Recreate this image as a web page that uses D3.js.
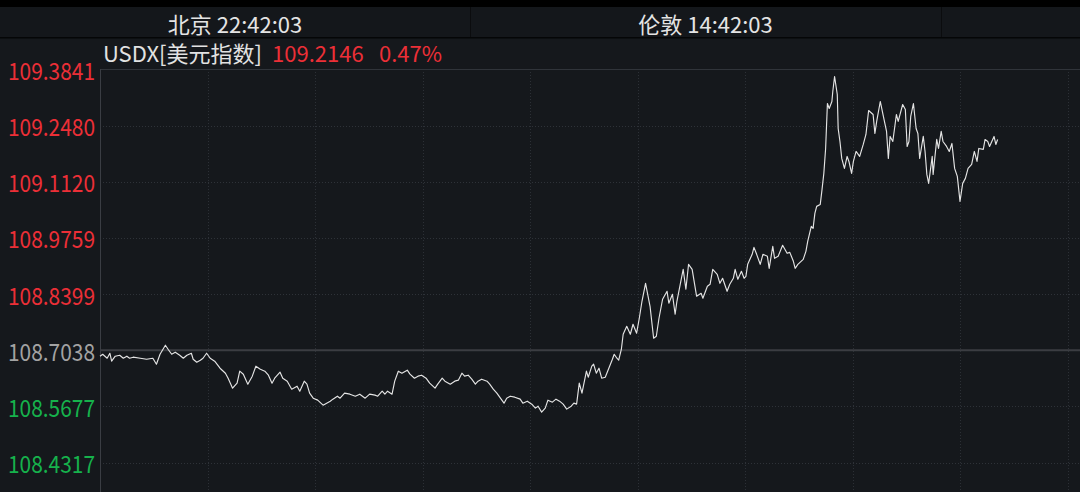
<!DOCTYPE html>
<html>
<head>
<meta charset="utf-8">
<script src="https://cdn.jsdelivr.net/npm/d3@7"></script>
<style>
  html, body { margin: 0; padding: 0; background: #15181c; }
  svg { display: block; }
  text { font-family: "Noto Sans CJK SC", "Noto Sans", sans-serif; }
</style>
</head>
<body>
<svg id="chart" width="1080" height="492"></svg>
<script>
// ---- data ----
const cityLabels = ["北京 22:42:03", "伦敦 14:42:03"];
const symbolName = "USDX[美元指数]";
const lastPrice = "109.2146";
const changePct = "0.47%";
const prevClose = 108.7038;
const yTickLabels = ["109.3841", "109.2480", "109.1120", "108.9759", "108.8399", "108.7038", "108.5677", "108.4317"];
const gridMinutes = [0, 120, 240, 360, 480, 600, 720, 840, 960, 1080, 1200, 1320, 1440];
// minutes after 06:00 (Beijing)
const minutes = [0,3,8,11,13,17,22,26,30,33,37,45,52,59,63,67,73,76,80,84,89,93,97,102,104,108,112,115,119,123,128,134,140,143,148,153,156,160,165,170,174,179,184,188,192,195,201,204,209,214,220,223,228,231,234,238,243,249,253,257,260,265,268,273,279,285,290,296,301,307,310,315,318,321,326,329,333,337,343,346,351,355,359,364,368,374,377,382,385,391,396,400,404,407,411,415,419,422,426,432,435,439,443,447,451,454,458,463,469,472,477,482,486,489,493,497,500,505,509,513,517,521,526,529,532,535,538,543,545,549,551,554,557,560,564,568,572,574,577,579,582,584,588,592,595,599,602,605,609,614,618,621,624,628,633,635,639,642,644,649,651,654,657,661,666,671,673,678,681,684,689,692,695,700,703,707,709,712,716,719,721,723,728,730,733,737,740,745,747,751,753,757,762,767,770,774,776,779,785,788,790,794,796,798,800,804,806,808,810,812,814,817,818,820,823,824,826,828,831,834,836,839,841,844,848,852,855,858,863,865,867,871,874,878,880,882,885,889,891,896,899,901,903,905,908,911,913,915,919,921,923,925,929,930,934,936,939,941,945,948,951,954,957,960,963,966,969,973,976,979,981,986,988,991,993,998,1000,1002];
const values = [108.6893,108.6941,108.6844,108.6965,108.6772,108.6893,108.6917,108.6844,108.6893,108.6844,108.6869,108.6844,108.6820,108.6844,108.6699,108.6941,108.7159,108.7062,108.6941,108.6990,108.6917,108.6844,108.6917,108.6965,108.6820,108.6748,108.6796,108.6844,108.6965,108.6844,108.6772,108.6602,108.6481,108.6360,108.6118,108.6239,108.6530,108.6457,108.6215,108.6409,108.6651,108.6578,108.6530,108.6433,108.6239,108.6360,108.6505,108.6360,108.6288,108.6094,108.6167,108.6045,108.6288,108.6215,108.5997,108.5876,108.5828,108.5707,108.5755,108.5803,108.5852,108.5924,108.5876,108.5997,108.5973,108.5924,108.5973,108.5876,108.5973,108.5949,108.5924,108.6045,108.5973,108.6045,108.5973,108.6288,108.6530,108.6481,108.6554,108.6457,108.6360,108.6409,108.6433,108.6360,108.6239,108.6118,108.6215,108.6360,108.6288,108.6215,108.6288,108.6312,108.6481,108.6409,108.6433,108.6336,108.6215,108.6288,108.6336,108.6288,108.6215,108.6094,108.5997,108.5876,108.5755,108.5876,108.5924,108.5900,108.5852,108.5755,108.5803,108.5731,108.5634,108.5682,108.5537,108.5634,108.5828,108.5779,108.5852,108.5803,108.5731,108.5610,108.5682,108.5755,108.5731,108.6239,108.5997,108.6530,108.6384,108.6651,108.6699,108.6481,108.6602,108.6360,108.6384,108.6602,108.6820,108.6941,108.6844,108.6796,108.7062,108.7425,108.7619,108.7425,108.7667,108.7450,108.7813,108.8224,108.8660,108.8103,108.7328,108.7377,108.7813,108.8273,108.8466,108.8176,108.8394,108.7909,108.8224,108.8781,108.8999,108.8515,108.9120,108.8999,108.8345,108.8418,108.8297,108.8587,108.8636,108.8999,108.8878,108.8660,108.8781,108.8466,108.8636,108.8781,108.8999,108.8757,108.8950,108.8781,108.8829,108.9120,108.9362,108.9531,108.9362,108.9120,108.9362,108.9314,108.9023,108.9556,108.9265,108.9314,108.9580,108.9386,108.9410,108.9193,108.9023,108.9120,108.9241,108.9435,108.9677,109.0040,108.9991,109.0354,109.0524,109.0572,109.0935,109.1323,109.1928,109.3017,109.2896,109.3066,109.3308,109.3671,109.3235,109.2412,109.2097,109.1686,109.1444,109.1734,109.1613,109.1323,109.1613,109.1855,109.1734,109.2025,109.2267,109.2848,109.2751,109.2291,109.2582,109.3066,109.2751,109.2340,109.1686,109.2219,109.2097,109.2751,109.2582,109.2993,109.2872,109.1976,109.2097,109.2703,109.3017,109.2412,109.2291,109.1686,109.2219,109.1855,109.1299,109.1081,109.1734,109.1299,109.2146,109.1928,109.2340,109.2097,109.1976,109.1855,109.2049,109.1444,109.1250,109.0645,109.1081,109.1202,109.1444,109.1541,109.1855,109.1613,109.1928,109.1904,109.2146,109.2097,109.1976,109.2219,109.2025,109.2146];

// ---- layout ----
const W = 1080, H = 492;
const plotLeft = 100, plotTop = 69, plotBottom = 492;
const svg = d3.select("#chart");

const x = d3.scaleLinear().domain([0, 1440]).range([plotLeft, 1390]);
const tickVals = yTickLabels.map(Number);
const y = d3.scaleLinear().domain([d3.min(tickVals), d3.max(tickVals)]).range([462.5, 69.5]);

// backgrounds
svg.append("rect").attr("x", 0).attr("y", 0).attr("width", W).attr("height", H).attr("fill", "#15181c");
svg.append("rect").attr("x", 0).attr("y", 0).attr("width", W).attr("height", 7).attr("fill", "#000000");
svg.append("rect").attr("x", 0).attr("y", 7).attr("width", W).attr("height", 30).attr("fill", "#14171b");
svg.append("rect").attr("x", 0).attr("y", 37).attr("width", W).attr("height", 1.5).attr("fill", "#050607");
// header cell dividers
[470, 941].forEach(d => svg.append("line").attr("x1", d + 0.5).attr("x2", d + 0.5).attr("y1", 7).attr("y2", 37)
  .attr("stroke", "#0b0c0e").attr("stroke-width", 1));

// header texts
const hdrCenters = [235, 705.5];
cityLabels.forEach((t, i) => {
  svg.append("text").attr("x", hdrCenters[i]).attr("y", 23).attr("text-anchor", "middle")
    .attr("dominant-baseline", "central").attr("font-size", 22).attr("fill", "#e4e4e4").text(t);
});

// symbol line
const sym = svg.append("text").attr("x", 103).attr("y", 52).attr("dominant-baseline", "central").attr("font-size", 22);
sym.append("tspan").attr("fill", "#e2e2e2").text(symbolName);
sym.append("tspan").attr("x", 272).attr("fill", "#ec2f37").text(lastPrice);
sym.append("tspan").attr("x", 379).attr("fill", "#ec2f37").text(changePct);

// vertical grid
svg.append("g").selectAll("line").data(gridMinutes.slice(1)).join("line")
  .attr("x1", d => Math.round(x(d)) + 0.5).attr("x2", d => Math.round(x(d)) + 0.5)
  .attr("y1", plotTop).attr("y2", plotBottom)
  .attr("stroke", "#2c3036").attr("stroke-width", 1).attr("stroke-dasharray", "1,2");

// horizontal grid
svg.append("g").selectAll("line").data(tickVals.filter(v => v !== prevClose && v !== d3.max(tickVals))).join("line")
  .attr("x1", plotLeft).attr("x2", W)
  .attr("y1", d => Math.round(y(d)) + 0.5).attr("y2", d => Math.round(y(d)) + 0.5)
  .attr("stroke", "#2e3238").attr("stroke-width", 1).attr("stroke-dasharray", "1,2");

// baseline (previous close)
svg.append("line").attr("x1", plotLeft).attr("x2", W)
  .attr("y1", y(prevClose)).attr("y2", y(prevClose))
  .attr("stroke", "#3b3d42").attr("stroke-width", 2);

// borders
svg.append("line").attr("x1", plotLeft).attr("x2", W).attr("y1", plotTop + 0.5).attr("y2", plotTop + 0.5)
  .attr("stroke", "#30343a").attr("stroke-width", 1);
svg.append("line").attr("x1", plotLeft + 0.5).attr("x2", plotLeft + 0.5).attr("y1", plotTop).attr("y2", plotBottom)
  .attr("stroke", "#3a3d43").attr("stroke-width", 1);

// y labels
svg.append("g").selectAll("text").data(yTickLabels).join("text")
  .attr("x", 8).attr("y", d => y(+d)).attr("dominant-baseline", "central")
  .attr("font-size", 24).attr("textLength", 87).attr("lengthAdjust", "spacingAndGlyphs")
  .attr("fill", d => (+d > prevClose ? "#ec2f37" : (+d < prevClose ? "#16b24c" : "#a3a3a3")))
  .text(d => d);

// price line
const pts = minutes.map((m, i) => [m, values[i]]);
const line = d3.line().x(d => x(d[0])).y(d => y(d[1]));
svg.append("path").datum(pts).attr("d", line)
  .attr("fill", "none").attr("stroke", "#e4e4e4").attr("stroke-width", 1.15).attr("stroke-linejoin", "round");
</script>
</body>
</html>
